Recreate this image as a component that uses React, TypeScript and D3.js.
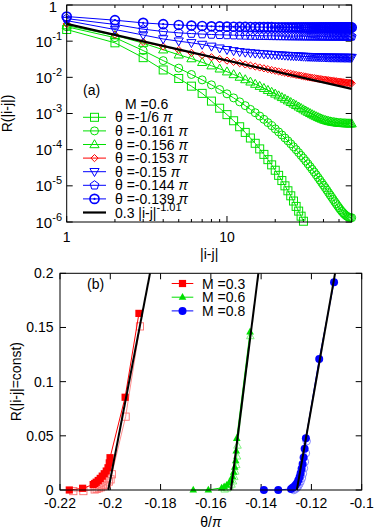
import React from "react";
import * as d3 from "d3";

// ---------- Panel (a) data: R(|i-j|) vs |i-j| for M = 0.6 ----------
const distances = d3.range(1, 61);

const rTheta1_6 = [0.21, 0.09, 0.035, 0.016, 0.0093, 0.0057, 0.0036, 0.0022, 0.0014, 9.3e-4, 6.3e-4, 4.3e-4, 3.0e-4, 2.1e-4, 1.5e-4, 1.05e-4, 7.4e-5, 5.3e-5, 3.8e-5, 2.7e-5, 1.95e-5, 1.4e-5, 1.0e-5, 7.3e-6, 5.3e-6, 3.8e-6, 2.7e-6, 2.0e-6, 1.45e-6, 1.05e-6];
const rTheta161 = [0.25, 0.125, 0.055, 0.029, 0.018, 0.012, 0.0085, 0.0062, 0.0046, 0.0035, 0.0027, 0.0021, 0.00165, 0.0013, 0.00105, 8.5e-4, 6.9e-4, 5.6e-4, 4.6e-4, 3.75e-4, 3.1e-4, 2.55e-4, 2.1e-4, 1.75e-4, 1.45e-4, 1.2e-4, 1.0e-4, 8.3e-5, 6.9e-5, 5.8e-5, 4.85e-5, 4.05e-5, 3.4e-5, 2.85e-5, 2.4e-5, 2.02e-5, 1.7e-5, 1.44e-5, 1.22e-5, 1.04e-5, 8.9e-6, 7.6e-6, 6.5e-6, 5.6e-6, 4.85e-6, 4.2e-6, 3.65e-6, 3.2e-6, 2.8e-6, 2.48e-6, 2.2e-6, 1.98e-6, 1.8e-6, 1.65e-6, 1.53e-6, 1.44e-6, 1.38e-6, 1.34e-6, 1.32e-6, 1.31e-6];
const rTheta156 = [0.27, 0.145, 0.088, 0.058, 0.042, 0.033, 0.026, 0.021, 0.0172, 0.0143, 0.012, 0.0102, 0.0087, 0.0075, 0.0065, 0.0057, 0.005, 0.0044, 0.0039, 0.00348, 0.00311, 0.00279, 0.00251, 0.00226, 0.00204, 0.00185, 0.00168, 0.00153, 0.0014, 0.00128, 0.00118, 0.00109, 0.00101, 9.4e-4, 8.8e-4, 8.28e-4, 7.82e-4, 7.42e-4, 7.07e-4, 6.76e-4, 6.52e-4, 6.31e-4, 6.13e-4, 5.98e-4, 5.85e-4, 5.75e-4, 5.66e-4, 5.58e-4, 5.51e-4, 5.45e-4, 5.4e-4, 5.36e-4, 5.33e-4, 5.3e-4, 5.28e-4, 5.26e-4, 5.25e-4, 5.24e-4, 5.23e-4, 5.23e-4];
const rTheta153 = [0.3, 0.15, 0.095, 0.071, 0.057, 0.0475, 0.041, 0.036, 0.032, 0.029, 0.0268, 0.0246, 0.0227, 0.0212, 0.0199, 0.0187, 0.0177, 0.0168, 0.0159, 0.0152, 0.01455, 0.01395, 0.0134, 0.0129, 0.01247, 0.01204, 0.01166, 0.01131, 0.011, 0.0107, 0.01042, 0.01016, 0.00992, 0.0097, 0.00952, 0.00931, 0.00913, 0.00897, 0.00881, 0.00868, 0.00855, 0.00843, 0.00831, 0.00818, 0.00806, 0.00795, 0.00785, 0.00775, 0.00765, 0.00756, 0.00747, 0.00739, 0.00731, 0.00723, 0.00716, 0.00709, 0.00702, 0.00696, 0.0069, 0.00685];
const rTheta150 = [0.37, 0.21, 0.148, 0.115, 0.1, 0.09, 0.081, 0.072, 0.064, 0.058, 0.054, 0.051, 0.049, 0.0475, 0.0462, 0.0451, 0.0442, 0.0434, 0.0427, 0.0421, 0.0415, 0.041, 0.0405, 0.04, 0.0396, 0.0392, 0.0388, 0.0385, 0.0382, 0.0379, 0.0376, 0.0374, 0.0372, 0.037, 0.0368, 0.0366, 0.0365, 0.0363, 0.0362, 0.0361, 0.036, 0.0359, 0.0358, 0.0357, 0.0357, 0.0356, 0.0356, 0.0355, 0.0355, 0.0354, 0.0354, 0.0354, 0.0353, 0.0353, 0.0353, 0.0353, 0.0352, 0.0352, 0.0352, 0.0352];
const rTheta144 = [0.42, 0.29, 0.215, 0.185, 0.17, 0.162, 0.157, 0.153, 0.15, 0.148, 0.1465, 0.1452, 0.1441, 0.1432, 0.1424, 0.1417, 0.1411, 0.1406, 0.1401, 0.1397, 0.1393, 0.139, 0.1387, 0.1384, 0.1382, 0.138, 0.1378, 0.1376, 0.1374, 0.1373, 0.1371, 0.137, 0.1369, 0.1368, 0.1367, 0.1366, 0.1365, 0.1364, 0.1364, 0.1363, 0.1363, 0.1362, 0.1362, 0.1361, 0.1361, 0.1361, 0.136, 0.136, 0.136, 0.136, 0.1359, 0.1359, 0.1359, 0.1359, 0.1359, 0.1359, 0.1358, 0.1358, 0.1358, 0.1358];
const rTheta139 = [0.48, 0.38, 0.32, 0.295, 0.28, 0.27, 0.263, 0.258, 0.255, 0.252, 0.25, 0.2485, 0.2473, 0.2463, 0.2455, 0.2448, 0.2442, 0.2437, 0.2432, 0.2428, 0.2425, 0.2422, 0.2419, 0.2417, 0.2415, 0.2413, 0.2411, 0.241, 0.2409, 0.2408, 0.2407, 0.2406, 0.2405, 0.2404, 0.2404, 0.2403, 0.2403, 0.2402, 0.2402, 0.2401, 0.2401, 0.2401, 0.24, 0.24, 0.24, 0.24, 0.24, 0.24, 0.24, 0.24, 0.2399, 0.2399, 0.2399, 0.2399, 0.2399, 0.2399, 0.2399, 0.2399, 0.2399, 0.2399];

const fitAmp = 0.3;
const fitExp = -1.01;
const fitRange = [1, 60];

const seriesLabels = ["-1/6", "-0.161", "-0.156", "-0.153", "-0.15", "-0.144", "-0.139"];

// ---------- Panel (b) data: R(|i-j|=const) vs theta/pi ----------
const m03FilledTheta = [-0.2163, -0.211, -0.2068, -0.2062, -0.2056, -0.2048, -0.204, -0.2032, -0.2024, -0.2016, -0.2009, -0.2004, -0.2001, -0.1941, -0.1886];
const m03FilledR = [0, 0.0016, 0.005, 0.006, 0.0072, 0.0088, 0.0107, 0.0128, 0.015, 0.0175, 0.0205, 0.025, 0.0298, 0.0856, 0.163];
const m03OpenTheta = [-0.2147, -0.2107, -0.2062, -0.2054, -0.2046, -0.2038, -0.203, -0.2022, -0.2014, -0.2006, -0.1999, -0.1994, -0.1939, -0.1882];
const m03OpenR = [-0.001, -0.001, 0.0005, 0.001, 0.0017, 0.0025, 0.0035, 0.0047, 0.006, 0.0078, 0.0098, 0.0145, 0.0677, 0.151];

const m06FilledTheta = [-0.167, -0.161, -0.1557, -0.1547, -0.1537, -0.1528, -0.152, -0.1514, -0.1509, -0.1505, -0.1501, -0.1499, -0.1497, -0.1444];
const m06FilledR = [0, 0, 0.002, 0.003, 0.0045, 0.0065, 0.009, 0.0125, 0.0165, 0.021, 0.027, 0.036, 0.0477, 0.146];
const m06OpenTheta = [-0.1545, -0.1535, -0.1526, -0.1518, -0.1512, -0.1507, -0.1503, -0.1499, -0.1496, -0.1494, -0.1443];
const m06OpenR = [0.0005, 0.0015, 0.003, 0.005, 0.008, 0.012, 0.017, 0.023, 0.031, 0.041, 0.142];

const m08FilledTheta = [-0.1389, -0.1332, -0.1281, -0.1275, -0.1269, -0.1263, -0.1257, -0.1252, -0.1247, -0.1243, -0.1239, -0.1235, -0.1231, -0.1227, -0.1222, -0.1169, -0.111];
const m08FilledR = [0, 0, 0.001, 0.002, 0.003, 0.0045, 0.0065, 0.009, 0.012, 0.0155, 0.0195, 0.024, 0.03, 0.038, 0.0477, 0.121, 0.1917];
const m08OpenTheta = [-0.127, -0.1264, -0.1258, -0.1253, -0.1248, -0.1243, -0.1238, -0.1234, -0.123, -0.1226, -0.1222, -0.1219];
const m08OpenR = [0, 0.001, 0.002, 0.0035, 0.0055, 0.008, 0.011, 0.015, 0.02, 0.026, 0.034, 0.045];

const fitM03 = [[-0.2008, 0], [-0.1842, 0.2]];
const fitM06 = [[-0.152, 0], [-0.1411, 0.2]];
const fitM08 = [[-0.1258, 0], [-0.1106, 0.2]];

const mLabels = ["0.3", "0.6", "0.8"];

const topXTicks = [1, 10];
const topYTickExps = [0, -1, -2, -3, -4, -5, -6];
const botXTicks = [-0.22, -0.2, -0.18, -0.16, -0.14, -0.12, -0.1];
const botYTicks = [0, 0.05, 0.1, 0.15, 0.2];

const FONT = "'Liberation Sans', Arial, Helvetica, sans-serif";
const GREEN = "#00e000";
const RED = "#ff0000";
const BLUE = "#0000ff";

type MType = "square" | "circle" | "tri" | "diamond" | "dtri" | "pent" | "cdot" | "fsquare" | "ftri" | "fcircle";

function Marker({ t, x, y, c }: { t: MType; x: number; y: number; c: string }) {
  const sw = 1;
  switch (t) {
    case "square":
      return <rect x={x - 4} y={y - 4} width={8} height={8} fill="none" stroke={c} strokeWidth={sw} />;
    case "circle":
      return <circle cx={x} cy={y} r={4} fill="none" stroke={c} strokeWidth={sw} />;
    case "tri":
      return <polygon points={`${x},${y - 4.8} ${x + 4.6},${y + 3.2} ${x - 4.6},${y + 3.2}`} fill="none" stroke={c} strokeWidth={sw} />;
    case "dtri":
      return <polygon points={`${x},${y + 4.8} ${x + 4.6},${y - 3.2} ${x - 4.6},${y - 3.2}`} fill="none" stroke={c} strokeWidth={sw} />;
    case "diamond":
      return <polygon points={`${x},${y - 3.6} ${x + 3.6},${y} ${x},${y + 3.6} ${x - 3.6},${y}`} fill="none" stroke={c} strokeWidth={sw} />;
    case "pent": {
      const pts = d3.range(5).map((k) => {
        const a = -Math.PI / 2 + (k * 2 * Math.PI) / 5;
        return `${x + 4.6 * Math.cos(a)},${y + 4.6 * Math.sin(a)}`;
      });
      return <polygon points={pts.join(" ")} fill="none" stroke={c} strokeWidth={sw} />;
    }
    case "cdot":
      return (
        <g>
          <circle cx={x} cy={y} r={4.5} fill="none" stroke={c} strokeWidth={1.7} />
          <circle cx={x} cy={y} r={1.1} fill={c} />
        </g>
      );
    case "fsquare":
      return <rect x={x - 3.6} y={y - 3.6} width={7.2} height={7.2} fill={c} />;
    case "ftri":
      return <polygon points={`${x},${y - 4.2} ${x + 3.8},${y + 2.6} ${x - 3.8},${y + 2.6}`} fill={c} />;
    case "fcircle":
      return <circle cx={x} cy={y} r={4} fill={c} />;
  }
  return null;
}

function OpenMarker({ t, x, y, c }: { t: string; x: number; y: number; c: string }) {
  if (t === "square") return <rect x={x - 3.6} y={y - 3.6} width={7.2} height={7.2} fill="none" stroke={c} strokeWidth={0.9} />;
  if (t === "tri") return <polygon points={`${x},${y - 4.2} ${x + 3.8},${y + 2.6} ${x - 3.8},${y + 2.6}`} fill="none" stroke={c} strokeWidth={0.9} />;
  return <circle cx={x} cy={y} r={3.8} fill="none" stroke={c} strokeWidth={0.9} />;
}

export default function App() {
  // panel (a)
  const aL = 66.7, aR = 351.7, aT = 5, aB = 222;
  const xA = d3.scaleLog().domain([1, 60]).range([aL, aR]);
  const yA = d3.scaleLog().domain([1e-6, 1]).range([aB, aT]);

  // panel (b)
  const bL = 60, bR = 361.7, bT = 273.3, bB = 490;
  const xB = d3.scaleLinear().domain([-0.22, -0.1]).range([bL, bR]);
  const yB = d3.scaleLinear().domain([0, 0.2]).range([bB, bT]);

  const topSeries: { vals: number[]; t: MType; c: string }[] = [
    { vals: rTheta1_6, t: "square", c: GREEN },
    { vals: rTheta161, t: "circle", c: GREEN },
    { vals: rTheta156, t: "tri", c: GREEN },
    { vals: rTheta153, t: "diamond", c: RED },
    { vals: rTheta150, t: "dtri", c: BLUE },
    { vals: rTheta144, t: "pent", c: BLUE },
    { vals: rTheta139, t: "cdot", c: BLUE },
  ];

  const lineA = d3
    .line<[number, number]>()
    .x((d) => xA(d[0]))
    .y((d) => yA(d[1]));
  const lineB = d3
    .line<[number, number]>()
    .x((d) => xB(d[0]))
    .y((d) => yB(d[1]));

  const fitPts: [number, number][] = fitRange.map((x) => [x, fitAmp * Math.pow(x, fitExp)]);

  const minorX: number[] = [];
  [1, 10].forEach((dec) => {
    for (let k = 2; k <= 9; k++) {
      const v = dec * k;
      if (v < 60) minorX.push(v);
    }
  });

  const botSeries = [
    { th: m03OpenTheta, r: m03OpenR, filled: false, c: "#ff6f6f", t: "square" },
    { th: m06OpenTheta, r: m06OpenR, filled: false, c: "#70f070", t: "tri" },
    { th: m08OpenTheta, r: m08OpenR, filled: false, c: "#7a7aff", t: "circle" },
    { th: m03FilledTheta, r: m03FilledR, filled: true, c: RED, t: "fsquare" },
    { th: m06FilledTheta, r: m06FilledR, filled: true, c: GREEN, t: "ftri" },
    { th: m08FilledTheta, r: m08FilledR, filled: true, c: BLUE, t: "fcircle" },
  ];

  const legendA = [
    { t: "square" as MType, c: GREEN },
    { t: "circle" as MType, c: GREEN },
    { t: "tri" as MType, c: GREEN },
    { t: "diamond" as MType, c: RED },
    { t: "dtri" as MType, c: BLUE },
    { t: "pent" as MType, c: BLUE },
    { t: "cdot" as MType, c: BLUE },
  ];

  const legendB = [
    { t: "fsquare" as MType, c: RED },
    { t: "ftri" as MType, c: GREEN },
    { t: "fcircle" as MType, c: BLUE },
  ];

  const tick = 6;
  const minorTick = 3;

  return (
    <svg
      width={374}
      height={532}
      style={{ position: "absolute", left: 0, top: 0, display: "block", background: "#fff" }}
      fontFamily={FONT}
    >
      <rect x={0} y={0} width={374} height={532} fill="#fff" />
      {/* ===== Panel (a) ===== */}
      {topXTicks.map((v) => (
        <g key={"tx" + v}>
          <line x1={xA(v)} x2={xA(v)} y1={aB} y2={aB - tick} stroke="#000" />
          <line x1={xA(v)} x2={xA(v)} y1={aT} y2={aT + tick} stroke="#000" />
          <text x={xA(v)} y={241.5} fontSize={14} textAnchor="middle">{v}</text>
        </g>
      ))}
      {minorX.map((v) => (
        <g key={"mx" + v}>
          <line x1={xA(v)} x2={xA(v)} y1={aB} y2={aB - minorTick} stroke="#000" />
          <line x1={xA(v)} x2={xA(v)} y1={aT} y2={aT + minorTick} stroke="#000" />
        </g>
      ))}
      {topYTickExps.map((e) => {
        const y = yA(Math.pow(10, e));
        return (
          <g key={"ty" + e}>
            <line x1={aL} x2={aL + tick} y1={y} y2={y} stroke="#000" />
            <line x1={aR} x2={aR - tick} y1={y} y2={y} stroke="#000" />
            {e === 0 ? (
              <text x={57} y={y + 7} fontSize={15} textAnchor="end">1</text>
            ) : (
              <text x={62} y={y + 5.5} fontSize={15} textAnchor="end">
                10<tspan fontSize={11} dy={-7}>{String(e)}</tspan>
              </text>
            )}
          </g>
        );
      })}

      {topSeries.map((s, i) => {
        const pts: [number, number][] = s.vals.map((v, k) => [distances[k], v]);
        return (
          <g key={"sa" + i}>
            <path d={lineA(pts) || ""} fill="none" stroke={s.c} strokeWidth={1} />
            {pts.map((p, k) => (
              <Marker key={k} t={s.t} x={xA(p[0])} y={yA(p[1])} c={s.c} />
            ))}
          </g>
        );
      })}
      <path d={lineA(fitPts) || ""} fill="none" stroke="#000" strokeWidth={2.2} />

      <rect x={aL} y={aT} width={aR - aL} height={aB - aT} fill="none" stroke="#000" strokeWidth={1} />

      <text x={83} y={95} fontSize={14}>(a)</text>
      <text x={125} y={108.5} fontSize={14}>M =0.6</text>
      {legendA.map((l, i) => {
        const y = 117.3 + i * 13.6;
        return (
          <g key={"la" + i}>
            <line x1={83} x2={106} y1={y} y2={y} stroke={l.c} strokeWidth={1} />
            <Marker t={l.t} x={94.5} y={y} c={l.c} />
            <text x={115} y={y + 5} fontSize={14}>
              θ =<tspan>{seriesLabels[i]}</tspan> <tspan fontStyle="italic">π</tspan>
            </text>
          </g>
        );
      })}
      <g>
        <line x1={83} x2={106} y1={117.3 + 7 * 13.6} y2={117.3 + 7 * 13.6} stroke="#000" strokeWidth={2.2} />
        <text x={115} y={117.3 + 7 * 13.6 + 5} fontSize={14}>
          0.3 |i-j|<tspan fontSize={11} dy={-7}>-1.01</tspan>
        </text>
      </g>

      <text transform={`translate(12,${(aT + aB) / 2}) rotate(-90)`} fontSize={14} textAnchor="middle">R(|i-j|)</text>
      <text x={(aL + aR) / 2} y={259} fontSize={14} textAnchor="middle">|i-j|</text>

      {/* ===== Panel (b) ===== */}
      {botXTicks.map((v) => (
        <g key={"bx" + v}>
          <line x1={xB(v)} x2={xB(v)} y1={bB} y2={bB - tick} stroke="#000" />
          <line x1={xB(v)} x2={xB(v)} y1={bT} y2={bT + tick} stroke="#000" />
          <text x={xB(v)} y={508} fontSize={14} textAnchor="middle">{String(v)}</text>
        </g>
      ))}
      {botYTicks.map((v) => (
        <g key={"by" + v}>
          <line x1={bL} x2={bL + tick} y1={yB(v)} y2={yB(v)} stroke="#000" />
          <line x1={bR} x2={bR - tick} y1={yB(v)} y2={yB(v)} stroke="#000" />
          <text x={53.5} y={yB(v) + 5} fontSize={14} textAnchor="end">{String(v)}</text>
        </g>
      ))}

      {botSeries.map((s, i) => {
        const pts: [number, number][] = s.th.map((t, k) => [t, s.r[k]]);
        return (
          <g key={"sb" + i}>
            <path d={lineB(pts) || ""} fill="none" stroke={s.c} strokeWidth={s.filled ? 1 : 0.8} />
            {pts.map((p, k) =>
              s.filled ? (
                <Marker key={k} t={s.t as MType} x={xB(p[0])} y={yB(p[1])} c={s.c} />
              ) : (
                <OpenMarker key={k} t={s.t} x={xB(p[0])} y={yB(p[1])} c={s.c} />
              )
            )}
          </g>
        );
      })}
      {[fitM03, fitM06, fitM08].map((f, i) => (
        <path key={"fb" + i} d={lineB(f as [number, number][]) || ""} fill="none" stroke="#000" strokeWidth={2} />
      ))}

      <rect x={bL} y={bT} width={bR - bL} height={bB - bT} fill="none" stroke="#000" strokeWidth={1} />

      <text x={87} y={289} fontSize={14}>(b)</text>
      {legendB.map((l, i) => {
        const y = 283.5 + i * 13.7;
        return (
          <g key={"lb" + i}>
            <line x1={171.7} x2={193.3} y1={y} y2={y} stroke={l.c} strokeWidth={1} />
            <Marker t={l.t} x={182.5} y={y} c={l.c} />
            <text x={202} y={y + 5} fontSize={14}>M =<tspan>{mLabels[i]}</tspan></text>
          </g>
        );
      })}

      <text transform={`translate(21,${(bT + bB) / 2}) rotate(-90)`} fontSize={14} textAnchor="middle">R(|i-j|=const)</text>
      <text x={(bL + bR) / 2} y={527} fontSize={14} textAnchor="middle">θ/<tspan fontStyle="italic">π</tspan></text>
    </svg>
  );
}
